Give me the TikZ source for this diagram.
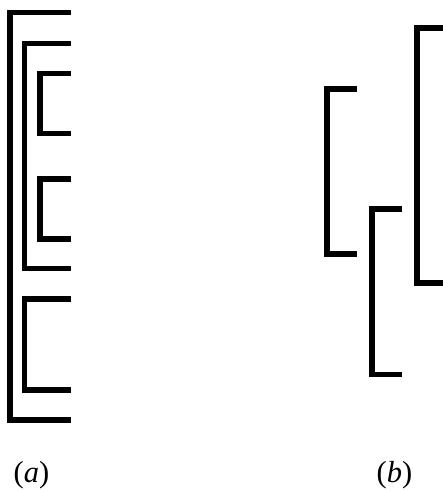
\documentclass[tikz,border=0pt]{standalone}
\usepackage{fontspec}
\setmainfont{Liberation Serif}
\begin{document}
\begin{tikzpicture}[x=1pt,y=-1pt,
  br/.style={line width=5.3pt, line join=miter, line cap=butt},
  lbl/.style={font=\fontsize{30.5}{33}\selectfont, inner sep=0pt}]
\useasboundingbox (0,0) rectangle (443,491);
% (a)
\draw[br] (71,12.5) -- (10,12.5) -- (10,420) -- (71,420);
\draw[br] (71,43.5) -- (24.5,43.5) -- (24.5,268.5) -- (71,268.5);
\draw[br] (71,73.5) -- (40,73.5) -- (40,133.5) -- (71,133.5);
\draw[br] (71,179) -- (40,179) -- (40,239) -- (71,239);
\draw[br] (71,299) -- (24.5,299) -- (24.5,390) -- (71,390);
% (b)
\draw[br] (357,89) -- (327,89) -- (327,254) -- (357,254);
\draw[br] (402,209) -- (372,209) -- (372,374.5) -- (402,374.5);
\draw[br] (443,28) -- (417,28) -- (417,283) -- (443,283);
% labels
\node[lbl] (la) at (31.5,475) {(\textit{a})};
\node[lbl] (lb) at (394.5,475) {(\textit{b})};
\end{tikzpicture}
\end{document}
